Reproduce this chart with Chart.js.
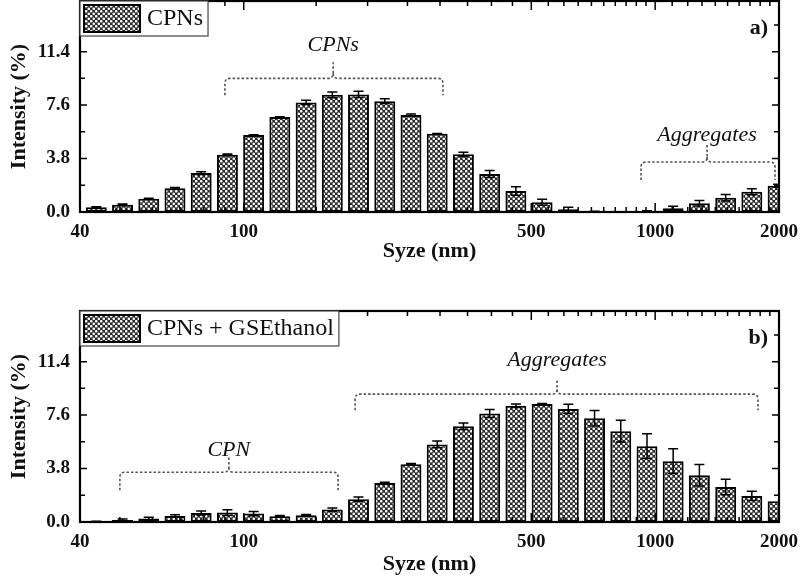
<!DOCTYPE html>
<html>
<head>
<meta charset="utf-8">
<script src="https://cdn.jsdelivr.net/npm/chart.js@4.4.1/dist/chart.umd.min.js"></script>
<style>
  body { margin: 0; background: #fff; width: 800px; height: 582px; overflow: hidden; position: relative; }
  canvas { position: absolute; left: 0; }
  #top { top: 0; }
  #bottom { top: 290px; }
</style>
</head>
<body>
<canvas id="top" width="800" height="282"></canvas>
<canvas id="bottom" width="800" height="292"></canvas>
<script>
// size bins (nm)
const sizes = [43.82, 50.75, 58.77, 68.06, 78.82, 91.28, 105.7, 122.4, 141.8, 164.2, 190.1, 220.2, 255.0,
  295.3, 342.0, 396.1, 458.7, 531.2, 615.1, 712.4, 825.0, 955.4, 1106, 1281, 1484, 1718, 1990];

// panel a) CPNs
const cpnsIntensity = [0.33, 0.52, 0.95, 1.68, 2.77, 4.07, 5.47, 6.75, 7.79, 8.33, 8.36, 7.88, 6.89,
  5.56, 4.10, 2.70, 1.49, 0.69, 0.19, 0.02, 0, 0.05, 0.26, 0.62, 1.02, 1.44, 1.87];
const cpnsError = [0.05, 0.05, 0.03, 0.07, 0.1, 0.06, 0.03, 0.03, 0.15, 0.2, 0.22, 0.17, 0.07,
  0.02, 0.15, 0.25, 0.3, 0.21, 0.14, 0.03, 0, 0.03, 0.15, 0.2, 0.23, 0.21, 0.1];

// panel b) CPNs + GSEthanol
const gseIntensity = [0.03, 0.15, 0.24, 0.43, 0.64, 0.67, 0.6, 0.41, 0.48, 0.88, 1.62, 2.78, 4.1,
  5.51, 6.81, 7.71, 8.26, 8.38, 8.04, 7.38, 6.46, 5.39, 4.32, 3.32, 2.49, 1.85, 1.47];
const gseError = [0.02, 0.07, 0.1, 0.08, 0.15, 0.2, 0.15, 0.05, 0.05, 0.12, 0.15, 0.05, 0.05,
  0.24, 0.23, 0.28, 0.12, 0.05, 0.33, 0.55, 0.78, 0.88, 0.88, 0.76, 0.55, 0.33, 0];

// axes
const xTicks = [40, 100, 500, 1000, 2000];
const xMajor = [100, 500, 1000];
const xMinor = [50, 60, 70, 80, 90, 150, 200, 250, 300, 350, 400, 450, 550, 600, 650, 700, 750,
  800, 850, 900, 950, 1100, 1200, 1300, 1400, 1500, 1600, 1700, 1800, 1900];
const yTicks = [0, 3.8, 7.6, 11.4];
const yMinor = [1.9, 5.7, 9.5, 13.3];

const FONT = "'Liberation Serif', 'Times New Roman', serif";

function hatch() {
  const c = document.createElement('canvas');
  c.width = 5; c.height = 5;
  const g = c.getContext('2d');
  g.fillStyle = '#2a2a2a';
  g.fillRect(0, 0, 5, 5);
  g.fillStyle = '#fff';
  [[1.25, 1.25], [3.75, 3.75]].forEach(([x, y]) => {
    g.beginPath(); g.arc(x, y, 1.3, 0, Math.PI * 2); g.fill();
  });
  return g.createPattern(c, 'repeat');
}
const pattern = hatch();

const errorBars = {
  id: 'errorBars',
  afterDatasetsDraw(chart) {
    const {ctx, chartArea: a} = chart;
    const ys = chart.scales.y;
    const meta = chart.getDatasetMeta(0);
    const errs = chart.data.datasets[0].errors;
    ctx.save();
    ctx.beginPath(); ctx.rect(a.left, a.top, a.right - a.left, a.bottom - a.top); ctx.clip();
    ctx.strokeStyle = '#000'; ctx.lineWidth = 1.5;
    meta.data.forEach((el, i) => {
      const v = chart.data.datasets[0].data[i].y, e = errs[i];
      if (!e) return;
      const y1 = ys.getPixelForValue(v + e), y2 = ys.getPixelForValue(Math.max(0, v - e));
      ctx.beginPath();
      ctx.moveTo(el.x, y1); ctx.lineTo(el.x, y2);
      ctx.moveTo(el.x - 5, y1); ctx.lineTo(el.x + 5, y1);
      ctx.moveTo(el.x - 5, y2); ctx.lineTo(el.x + 5, y2);
      ctx.stroke();
    });
    ctx.restore();
  }
};

function drawBrace(ctx, xs, ys, b) {
  const L = xs.getPixelForValue(b.x1), R = xs.getPixelForValue(b.x2), C = xs.getPixelForValue(b.xc);
  const yl = ys.getPixelForValue(b.yLine), ye = ys.getPixelForValue(b.yEnd), yt = ys.getPixelForValue(b.yTip);
  const r = 5;
  ctx.save();
  ctx.strokeStyle = '#555'; ctx.lineWidth = 1.6; ctx.setLineDash([2.5, 2]);
  ctx.beginPath();
  ctx.moveTo(L, ye); ctx.lineTo(L, yl + r); ctx.quadraticCurveTo(L, yl, L + r, yl);
  ctx.lineTo(C - r, yl); ctx.quadraticCurveTo(C, yl, C, yl - r); ctx.lineTo(C, yt);
  ctx.moveTo(C, yl - r); ctx.quadraticCurveTo(C, yl, C + r, yl);
  ctx.lineTo(R - r, yl); ctx.quadraticCurveTo(R, yl, R, yl + r); ctx.lineTo(R, ye);
  ctx.stroke();
  ctx.restore();
  ctx.save();
  ctx.fillStyle = '#111'; ctx.font = 'italic 22px ' + FONT;
  ctx.textAlign = 'center'; ctx.textBaseline = 'middle';
  ctx.fillText(b.text, C, ys.getPixelForValue(b.yText));
  ctx.restore();
}

const decorations = {
  id: 'decorations',
  afterDraw(chart, args, opts) {
    const {ctx, chartArea: a} = chart;
    const xs = chart.scales.x, ys = chart.scales.y;
    ctx.save();
    ctx.strokeStyle = '#000'; ctx.lineWidth = 1.5;
    ctx.beginPath();
    xMinor.concat(xMajor).forEach(v => {
      const x = xs.getPixelForValue(v), len = xMajor.includes(v) ? 9 : 5;
      ctx.moveTo(x, a.bottom); ctx.lineTo(x, a.bottom - len);
      ctx.moveTo(x, a.top); ctx.lineTo(x, a.top + len);
    });
    yMinor.concat(yTicks).forEach(v => {
      const y = ys.getPixelForValue(v), len = yTicks.includes(v) ? 7 : 5;
      ctx.moveTo(a.left, y); ctx.lineTo(a.left + len, y);
      ctx.moveTo(a.right, y); ctx.lineTo(a.right - len, y);
    });
    ctx.stroke();
    ctx.lineWidth = 2.2;
    ctx.strokeRect(a.left, a.top, a.right - a.left, a.bottom - a.top);
    ctx.restore();

    opts.braces.forEach(b => drawBrace(ctx, xs, ys, b));

    // panel letter
    ctx.save();
    ctx.fillStyle = '#111'; ctx.font = 'bold 22px ' + FONT;
    ctx.textAlign = 'right'; ctx.textBaseline = 'middle';
    ctx.fillText(opts.letter, a.right - 11, a.top + 27);
    ctx.restore();

    // legend
    const label = chart.data.datasets[0].label;
    ctx.save();
    ctx.font = '24px ' + FONT;
    const tw = ctx.measureText(label).width;
    const bx = a.left, by = a.top, bw = 4 + 56 + 7 + tw + 5, bh = 35;
    ctx.fillStyle = '#fff'; ctx.fillRect(bx, by, bw, bh);
    ctx.strokeStyle = '#444'; ctx.lineWidth = 1.2; ctx.strokeRect(bx, by, bw, bh);
    ctx.fillStyle = pattern; ctx.fillRect(bx + 4, by + 4, 56, 27);
    ctx.strokeStyle = '#000'; ctx.lineWidth = 2; ctx.strokeRect(bx + 4, by + 4, 56, 27);
    ctx.fillStyle = '#111'; ctx.textBaseline = 'middle';
    ctx.fillText(label, bx + 67, by + 18);
    ctx.restore();
  }
};

function makePanel(id, label, values, errors, opts) {
  const canvas = document.getElementById(id);
  const H = canvas.height;
  return new Chart(canvas, {
    type: 'bar',
    data: {
      datasets: [{
        label: label,
        data: sizes.map((s, i) => ({x: s, y: values[i]})),
        errors: errors,
        backgroundColor: pattern,
        borderColor: '#000',
        borderWidth: 2,
        borderSkipped: false,
        categoryPercentage: 1,
        barPercentage: 0.8,
        clip: 0
      }]
    },
    options: {
      responsive: false,
      animation: false,
      events: [],
      layout: {padding: {top: opts.top, left: 0, right: 21, bottom: 0}},
      scales: {
        x: {
          type: 'logarithmic',
          min: 40, max: 2000,
          grid: {display: false, drawTicks: false},
          border: {display: false},
          afterBuildTicks: s => { s.ticks = xTicks.map(v => ({value: v})); },
          afterFit: s => { s.height = H - opts.bottom; s.paddingLeft = 0; s.paddingRight = 0; },
          ticks: {
            autoSkip: false, maxRotation: 0, padding: 9, color: '#111',
            font: {family: FONT, size: 19, weight: 'bold'},
            callback: v => String(v)
          },
          title: {
            display: true, text: 'Syze (nm)', color: '#111',
            font: {family: FONT, size: 22, weight: 'bold'},
            padding: {top: 0, bottom: opts.titlePad}
          }
        },
        y: {
          min: 0, max: 15,
          grid: {display: false, drawTicks: false},
          border: {display: false},
          afterBuildTicks: s => { s.ticks = yTicks.map(v => ({value: v})); },
          afterFit: s => { s.width = 80; s.paddingTop = 0; s.paddingBottom = 0; },
          ticks: {
            padding: 10, color: '#111',
            font: {family: FONT, size: 19, weight: 'bold'},
            callback: v => Number(v).toFixed(1)
          },
          title: {
            display: true, text: 'Intensity (%)', color: '#111',
            font: {family: FONT, size: 22, weight: 'bold'},
            padding: {top: 6, bottom: 0}
          }
        }
      },
      plugins: {
        legend: {display: false},
        tooltip: {enabled: false},
        decorations: {letter: opts.letter, braces: opts.braces}
      }
    },
    plugins: [errorBars, decorations]
  });
}

makePanel('top', 'CPNs', cpnsIntensity, cpnsError, {
  top: 1, bottom: 212, titlePad: 17, letter: 'a)',
  braces: [
    {text: 'CPNs', x1: 90, x2: 305, xc: 165, yLine: 9.5, yEnd: 8.3, yTip: 10.65, yText: 11.85},
    {text: 'Aggregates', x1: 924, x2: 1956, xc: 1337, yLine: 3.55, yEnd: 2.27, yTip: 4.76, yText: 5.47}
  ]
});

makePanel('bottom', 'CPNs + GSEthanol', gseIntensity, gseError, {
  top: 21, bottom: 232, titlePad: 4, letter: 'b)',
  braces: [
    {text: 'CPN', x1: 50, x2: 169.6, xc: 92, yLine: 3.54, yEnd: 2.26, yTip: 4.6, yText: 5.1},
    {text: 'Aggregates', x1: 186.5, x2: 1778, xc: 577.5, yLine: 9.09, yEnd: 7.95, yTip: 10.09, yText: 11.5}
  ]
});
</script>
</body>
</html>
